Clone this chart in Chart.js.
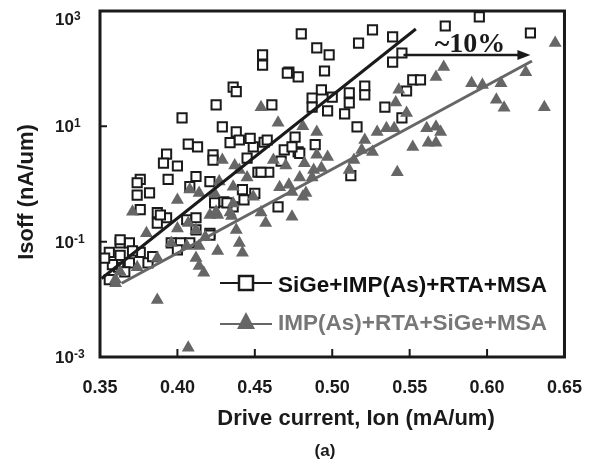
<!DOCTYPE html>
<html lang="en">
<head>
  <meta charset="UTF-8" />
  <title>Isoff vs Ion</title>
  <script src="https://cdn.jsdelivr.net/npm/chart.js"></script>
  <style>
    body { margin: 0; background: #fff; }
    #wrap { width: 594px; height: 465px; }
  </style>
</head>
<body>
  <div id="wrap"><canvas id="ionChart" width="594" height="465"></canvas></div>

  <script>
    // SiGe+IMP(As)+RTA+MSA (open squares)
    const sqIon = [0.595, 0.573, 0.628, 0.480, 0.490, 0.498, 0.517, 0.526, 0.539, 0.545, 0.539, 0.495, 0.478, 0.472,
      0.552, 0.557, 0.548, 0.521, 0.521, 0.511, 0.511, 0.493, 0.500, 0.487, 0.487, 0.497, 0.508, 0.534, 0.545, 0.516,
      0.476, 0.478, 0.489, 0.512, 0.455, 0.455, 0.471, 0.436, 0.438, 0.425, 0.461, 0.403, 0.429, 0.438, 0.434, 0.440,
      0.407, 0.413, 0.393, 0.391, 0.400, 0.423, 0.423, 0.449, 0.456, 0.469, 0.479, 0.445, 0.452, 0.376, 0.374, 0.382,
      0.394, 0.412, 0.408, 0.421, 0.442, 0.443, 0.450, 0.430, 0.436, 0.376, 0.387, 0.387, 0.393, 0.406, 0.412, 0.412,
      0.421, 0.465, 0.474, 0.356, 0.363, 0.369, 0.376, 0.381, 0.362, 0.369, 0.356, 0.363, 0.396, 0.402, 0.408, 0.421,
      0.363, 0.371, 0.358, 0.400, 0.424, 0.432, 0.389, 0.374, 0.467, 0.459, 0.454, 0.458, 0.353, 0.366, 0.384, 0.447];
    const sqIoff = [790, 550, 415, 400, 230, 173, 278, 470, 355, 187, 130, 91, 72, 87,
      64, 64, 41, 50, 35, 38, 25.5, 43, 32, 31, 21.5, 18.5, 16.5, 21.5, 14, 9.8,
      6.5, 3.6, 4.8, 1.4, 173, 115, 84, 48, 40, 23.5, 23.5, 14, 9.8, 8, 5.2, 5.8,
      4.9, 4.4, 3.3, 2.3, 2.05, 3.2, 2.6, 4.4, 5.3, 3.9, 3.4, 2.8, 1.6, 1.2, 0.64, 0.7,
      1.2, 1.35, 0.9, 1.1, 0.8, 0.53, 0.69, 0.49, 0.4, 0.36, 0.32, 0.21, 0.26, 0.24, 0.26, 0.16,
      0.14, 0.4, 4.4, 0.065, 0.095, 0.095, 0.065, 0.043, 0.036, 0.043, 0.022, 0.058, 0.095, 0.095, 0.095, 0.13,
      0.108, 0.069, 0.04, 0.072, 0.47, 0.47, 0.29, 1.05, 2.5, 1.6, 1.6, 5.8, 0.052, 0.03, 0.055, 6.2];

    // IMP(As)+RTA+SiGe+MSA (grey triangles)
    const triIon = [0.644, 0.637, 0.625, 0.609, 0.606, 0.611, 0.590, 0.597, 0.572, 0.567, 0.543, 0.541, 0.548, 0.529,
      0.535, 0.540, 0.561, 0.567, 0.570, 0.562, 0.567, 0.552, 0.521, 0.519, 0.526, 0.514, 0.511, 0.542, 0.481, 0.490,
      0.490, 0.497, 0.482, 0.493, 0.487, 0.479, 0.474, 0.483, 0.481, 0.474, 0.454, 0.465, 0.462, 0.470, 0.488, 0.429,
      0.437, 0.440, 0.472, 0.466, 0.400, 0.408, 0.414, 0.371, 0.380, 0.427, 0.436, 0.449, 0.454, 0.457, 0.425, 0.434,
      0.360, 0.374, 0.387, 0.387, 0.424, 0.407, 0.412, 0.400, 0.396, 0.421, 0.426, 0.406, 0.414, 0.412, 0.414, 0.417,
      0.426, 0.436, 0.435, 0.438, 0.440, 0.442, 0.407, 0.360, 0.363, 0.418, 0.445];
    const triIoff = [278, 21.5, 87, 56, 29, 21, 56, 52, 107, 72, 43, 26, 17, 8,
      9.3, 9.3, 9.3, 9.8, 8, 5.2, 5.2, 4.4, 5.8, 3.9, 3.6, 2.6, 1.75, 1.6, 10, 8,
      3.2, 2.95, 2.3, 1.9, 1.3, 1.3, 0.73, 0.7, 0.6, 0.27, 21.5, 11.5, 2.6, 2.1, 1.75, 2.6,
      2.1, 1.75, 0.97, 0.88, 0.53, 0.8, 0.7, 0.33, 0.14, 1.1, 0.9, 0.6, 0.32, 0.21, 0.33, 0.32,
      0.022, 0.036, 0.052, 0.0097, 0.69, 0.21, 0.16, 0.17, 0.095, 0.29, 0.29, 0.084, 0.084, 0.052, 0.038, 0.029,
      0.069, 0.46, 0.28, 0.16, 0.095, 0.064, 0.00144, 0.019, 0.03, 0.12, 1.3];

    // fitted trend lines
    const blackFitIon = [0.351, 0.554];
    const blackFitIoff = [0.023, 488];
    const greyFitIon = [0.364, 0.629];
    const greyFitIoff = [0.019, 136];

    // "~10%" arrow
    const arrowIon = [0.546, 0.628];
    const arrowIoff = 173;

    const xTicks = [0.35, 0.40, 0.45, 0.50, 0.55, 0.60, 0.65];
    const yTicks = [1e-3, 1e-1, 1e1, 1e3];
    const yTickExp = ['-3', '-1', '1', '3'];

    const GREY = '#666';
    const SANS = '"Liberation Sans", Arial, sans-serif';

    const toPts = (xs, ys) => xs.map((x, i) => ({ x: x, y: ys[i] }));

    // frame, inner ticks, y labels, titles, legend and arrow
    const decorPlugin = {
      id: 'decor',
      afterDraw(chart) {
        const { ctx, chartArea: a, scales: { x, y } } = chart;
        ctx.save();

        // plot frame
        ctx.strokeStyle = '#1a1a1a';
        ctx.lineWidth = 3;
        ctx.strokeRect(a.left, a.top, a.right - a.left, a.bottom - a.top);

        // inner tick marks
        ctx.lineWidth = 2;
        ctx.beginPath();
        xTicks.slice(1, -1).forEach(v => {
          const px = x.getPixelForValue(v);
          ctx.moveTo(px, a.bottom);
          ctx.lineTo(px, a.bottom - 8);
        });
        yTicks.slice(1, -1).forEach(v => {
          const py = y.getPixelForValue(v);
          ctx.moveTo(a.left, py);
          ctx.lineTo(a.left + 7, py);
        });
        ctx.stroke();

        // y tick labels with exponents
        ctx.fillStyle = '#1a1a1a';
        ctx.textAlign = 'left';
        ctx.textBaseline = 'alphabetic';
        yTicks.forEach((v, i) => {
          let py = y.getPixelForValue(v);
          if (py < a.top + 8) py = a.top + 8;
          ctx.font = 'bold 17px ' + SANS;
          ctx.fillText('10', 55, py + 6);
          const w = ctx.measureText('10').width;
          ctx.font = 'bold 12px ' + SANS;
          ctx.fillText(yTickExp[i], 55 + w, py + 1);
        });

        // axis titles
        ctx.font = 'bold 22px ' + SANS;
        ctx.textAlign = 'center';
        ctx.fillText('Drive current, Ion (mA/um)', 356, 425);
        ctx.font = 'bold 17px ' + SANS;
        ctx.fillText('(a)', 325, 456);
        ctx.save();
        ctx.translate(33, 192);
        ctx.rotate(-Math.PI / 2);
        ctx.font = 'bold 22px ' + SANS;
        ctx.fillText('Isoff (nA/um)', 0, 0);
        ctx.restore();

        // legend
        ctx.lineWidth = 2;
        ctx.strokeStyle = '#1a1a1a';
        ctx.beginPath();
        ctx.moveTo(220, 283); ctx.lineTo(272, 283);
        ctx.stroke();
        ctx.fillStyle = '#fff';
        ctx.fillRect(239, 276, 14, 14);
        ctx.lineWidth = 2.5;
        ctx.strokeRect(239, 276, 14, 14);
        ctx.strokeStyle = GREY;
        ctx.lineWidth = 2;
        ctx.beginPath();
        ctx.moveTo(220, 324); ctx.lineTo(272, 324);
        ctx.stroke();
        ctx.fillStyle = GREY;
        ctx.beginPath();
        ctx.moveTo(246, 312); ctx.lineTo(255, 329); ctx.lineTo(237, 329);
        ctx.closePath();
        ctx.fill();
        ctx.textAlign = 'left';
        ctx.font = 'bold 22.5px ' + SANS;
        ctx.fillStyle = '#111';
        ctx.fillText('SiGe+IMP(As)+RTA+MSA', 278, 292);
        ctx.fillStyle = '#777';
        ctx.fillText('IMP(As)+RTA+SiGe+MSA', 278, 330);

        // ~10% arrow
        const ax0 = x.getPixelForValue(arrowIon[0]);
        const ax1 = x.getPixelForValue(arrowIon[1]);
        const ay = y.getPixelForValue(arrowIoff);
        ctx.strokeStyle = '#1a1a1a';
        ctx.fillStyle = '#1a1a1a';
        ctx.lineWidth = 2.5;
        ctx.beginPath();
        ctx.moveTo(ax0, ay); ctx.lineTo(ax1 - 10, ay);
        ctx.stroke();
        ctx.beginPath();
        ctx.moveTo(ax1, ay); ctx.lineTo(ax1 - 13, ay - 5); ctx.lineTo(ax1 - 13, ay + 5);
        ctx.closePath();
        ctx.fill();
        ctx.font = 'bold 28px "Liberation Serif", "Times New Roman", serif';
        ctx.textAlign = 'center';
        ctx.fillText('~10%', (ax0 + ax1) / 2 + 3, ay - 3);

        ctx.restore();
      }
    };

    new Chart(document.getElementById('ionChart'), {
      type: 'scatter',
      data: {
        datasets: [
          {
            label: 'SiGe+IMP(As)+RTA+MSA',
            data: toPts(sqIon, sqIoff),
            pointStyle: 'rect',
            pointRadius: 6.5,
            borderWidth: 2,
            borderColor: '#1a1a1a',
            backgroundColor: '#fff',
            order: 3
          },
          {
            label: 'IMP(As)+RTA+SiGe+MSA',
            data: toPts(triIon, triIoff),
            pointStyle: 'triangle',
            pointRadius: 7.5,
            borderWidth: 0,
            backgroundColor: GREY,
            order: 2
          },
          {
            type: 'line',
            data: toPts(greyFitIon, greyFitIoff),
            borderColor: GREY,
            borderWidth: 3,
            pointRadius: 0,
            order: 1
          },
          {
            type: 'line',
            data: toPts(blackFitIon, blackFitIoff),
            borderColor: '#1a1a1a',
            borderWidth: 3,
            pointRadius: 0,
            order: 0
          }
        ]
      },
      options: {
        responsive: false,
        animation: false,
        layout: { padding: { left: 0, top: 11, right: 28, bottom: 0 } },
        plugins: { legend: { display: false }, tooltip: { enabled: false } },
        scales: {
          x: {
            type: 'linear',
            min: 0.35,
            max: 0.65,
            afterBuildTicks: s => { s.ticks = xTicks.map(v => ({ value: v })); },
            afterFit: s => { s.height = 108; },
            grid: { display: false },
            border: { display: false },
            ticks: {
              padding: 12,
              color: '#1a1a1a',
              font: { family: SANS, size: 18, weight: 'bold' },
              callback: v => v.toFixed(2)
            }
          },
          y: {
            type: 'logarithmic',
            min: 1e-3,
            max: 1e3,
            afterBuildTicks: s => { s.ticks = yTicks.map(v => ({ value: v })); },
            afterFit: s => { s.width = 100; },
            grid: { display: false },
            border: { display: false },
            ticks: { display: false }
          }
        }
      },
      plugins: [decorPlugin]
    });
  </script>
</body>
</html>
